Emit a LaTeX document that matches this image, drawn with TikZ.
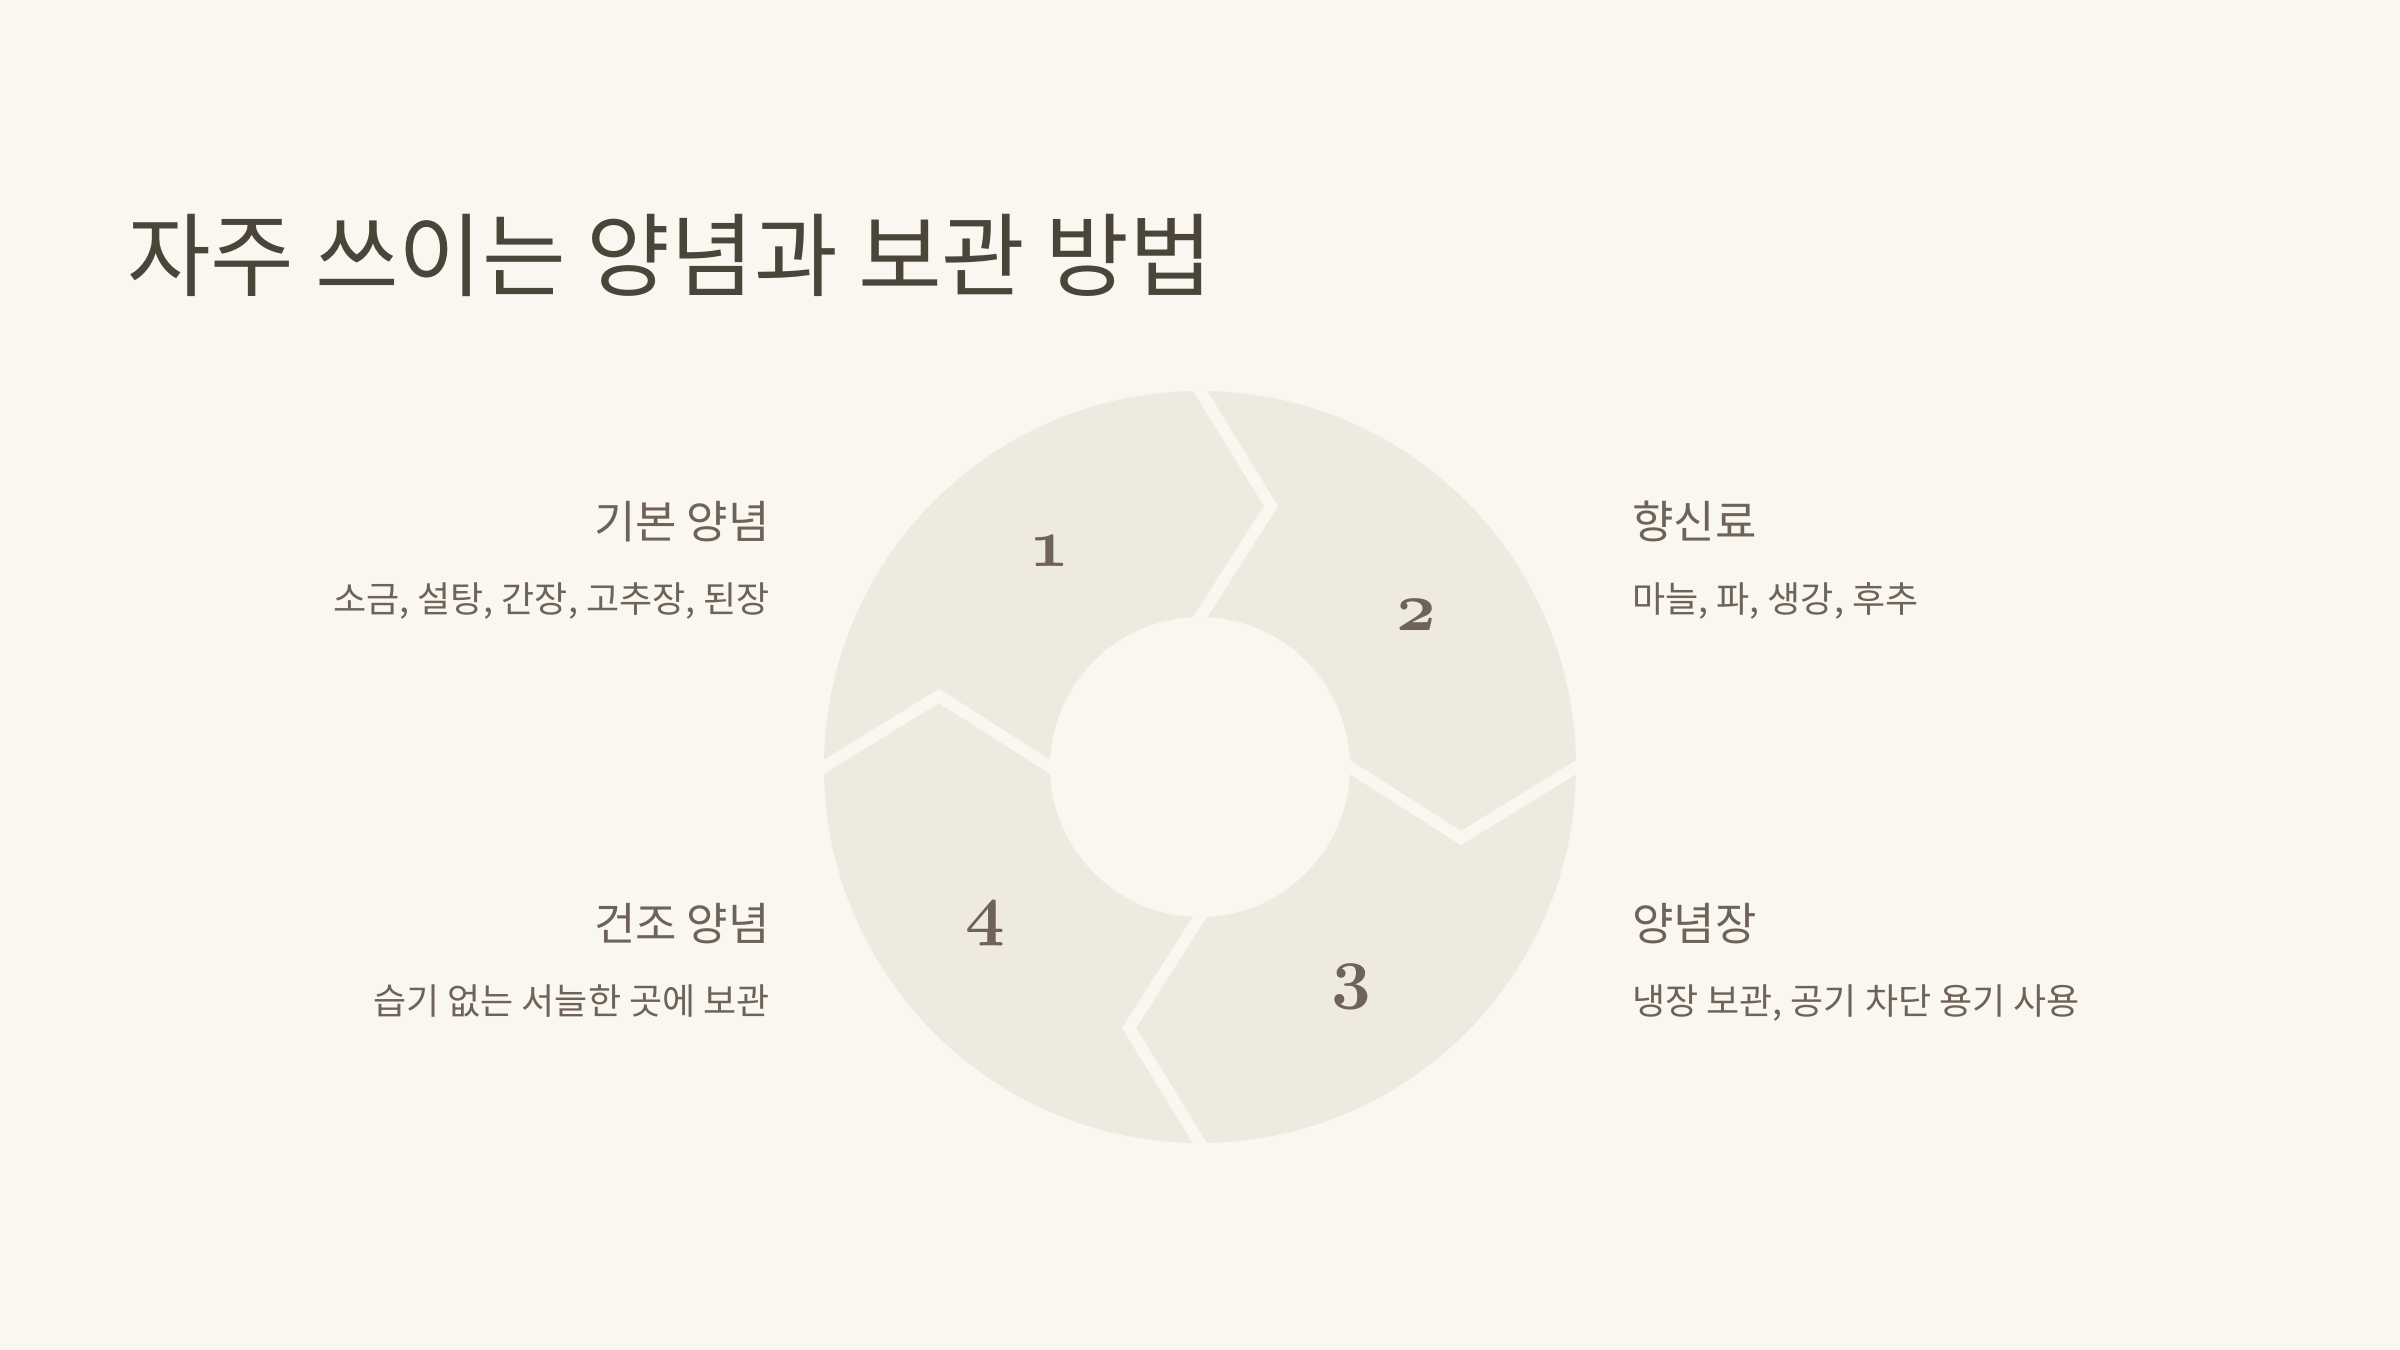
\documentclass[tikz,border=0pt]{standalone}
\usepackage{fontspec}
\setmainfont{Noto Sans CJK KR}
\definecolor{bgcream}{HTML}{F9F7F0}
\definecolor{segbeige}{HTML}{EFEADF}
\definecolor{titleink}{HTML}{4A4538}
\definecolor{textink}{HTML}{6F6357}
\newcommand{\oldnum}[1]{{\usefont{OML}{cmm}{b}{it}#1}}
\tikzset{every picture/.style={line width=0.75pt}}
\tikzset{
  gapline/.style={draw=bgcream, line width=3.6pt},
  titletext/.style={inner sep=0pt, text=titleink, font=\fontsize{27.3}{32}\selectfont},
  headtext/.style={inner sep=0pt, text=textink, font=\fontsize{13.5}{16}\selectfont},
  bodytext/.style={inner sep=0pt, text=textink, font=\fontsize{10.8}{13}\selectfont},
  numtext/.style={inner sep=0pt, text=textink, font=\fontsize{20.74}{24}\selectfont}
}

\begin{document}
\begin{tikzpicture}[x=0.3pt,y=0.3pt,yscale=-1,xscale=1]
     \useasboundingbox (0,0) rectangle (2400,1350);
     %Shape: Rectangle [id:background]
     \fill [bgcream] (0,0) rectangle (2400,1350);
     %Shape: Ring [id:ring]
     \fill [segbeige, even odd rule] (1200,767) circle (376) (1200,767) circle (150);
     %Straight Lines [id:gap_top]
     \draw [gapline] (1191,376) -- (1271,506) -- (1190,633);
     %Straight Lines [id:gap_right]
     \draw [gapline] (1591,758) -- (1461,838) -- (1334,757);
     %Straight Lines [id:gap_bottom]
     \draw [gapline] (1209,1158) -- (1129,1028) -- (1210,901);
     %Straight Lines [id:gap_left]
     \draw [gapline] (809,776) -- (939,696) -- (1066,777);
     % Text Node
     \node [titletext, anchor=base west] (title) at (126,290) {자주 쓰이는 양념과 보관 방법};
     % Text Node
     \node [numtext, anchor=base] (num1) at (1049,566) {\oldnum{1}};
     % Text Node
     \node [numtext, anchor=base] (num2) at (1416,630) {\oldnum{2}};
     % Text Node
     \node [numtext, anchor=base] (num3) at (1351,995) {\oldnum{3}};
     % Text Node
     \node [numtext, anchor=base] (num4) at (985,932) {\oldnum{4}};
     % Text Node
     \node [headtext, anchor=base east] (basichead) at (771,538) {기본 양념};
     % Text Node
     \node [bodytext, anchor=base east] (basicbody) at (771,612) {소금, 설탕, 간장, 고추장, 된장};
     % Text Node
     \node [headtext, anchor=base east] (dryhead) at (771,940) {건조 양념};
     % Text Node
     \node [bodytext, anchor=base east] (drybody) at (771,1014) {습기 없는 서늘한 곳에 보관};
     % Text Node
     \node [headtext, anchor=base west] (spicehead) at (1631,538) {향신료};
     % Text Node
     \node [bodytext, anchor=base west] (spicebody) at (1631,612) {마늘, 파, 생강, 후추};
     % Text Node
     \node [headtext, anchor=base west] (saucehead) at (1631,940) {양념장};
     % Text Node
     \node [bodytext, anchor=base west] (saucebody) at (1631,1014) {냉장 보관, 공기 차단 용기 사용};
\end{tikzpicture}
\end{document}
